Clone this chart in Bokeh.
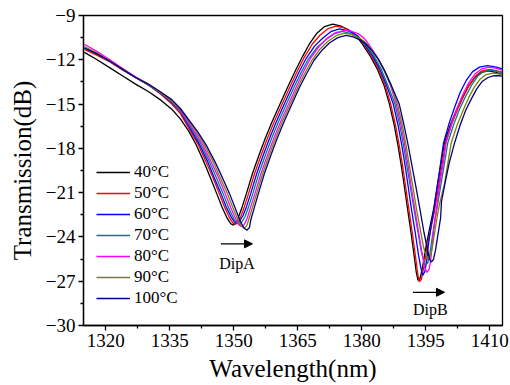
from bokeh.plotting import figure
from bokeh.models import Range1d, FixedTicker, Arrow, NormalHead
from bokeh.core.properties import value
from bokeh.embed import file_html
from bokeh.resources import INLINE

FONT = "Liberation Serif"

labels = ["40°C", "50°C", "60°C", "70°C", "80°C", "90°C", "100°C"]
colors = ["#000000", "#FF0000", "#0000FF", "#008080", "#FF00FF", "#808000", "#000080"]

wl_40 = [1315.0, 1318.0, 1321.0, 1324.0, 1327.0, 1330.0, 1333.0, 1335.5, 1337.5, 1339.5, 1341.2, 1343.0, 1344.5, 1346.0, 1347.3, 1348.5, 1349.3, 1349.9, 1350.5, 1351.2, 1352.0, 1353.0, 1354.4, 1356.0, 1357.5, 1359.0, 1360.7, 1362.5, 1364.2, 1366.0, 1367.8, 1369.5, 1371.3, 1373.2, 1375.0, 1376.8, 1378.5, 1380.2, 1382.0, 1383.7, 1385.2, 1386.5, 1387.6, 1388.5, 1389.3, 1390.0, 1390.8, 1391.6, 1392.3, 1392.8, 1393.2, 1393.7, 1394.3, 1395.1, 1396.0, 1396.8, 1397.8, 1398.6, 1399.4, 1400.8, 1402.2, 1403.6, 1405.0, 1406.5, 1408.0, 1409.8, 1411.5, 1413.0]
tr_40 = [-11.50, -12.00, -12.55, -13.10, -13.65, -14.15, -14.75, -15.35, -16.00, -16.85, -17.75, -18.90, -19.95, -21.05, -22.00, -22.75, -23.10, -23.20, -23.05, -22.60, -21.95, -21.05, -19.70, -18.40, -17.25, -16.20, -15.10, -13.95, -12.90, -11.85, -10.90, -10.20, -9.75, -9.58, -9.70, -9.95, -10.30, -10.95, -11.75, -12.65, -13.70, -15.00, -16.40, -17.80, -19.20, -20.60, -22.20, -23.80, -25.30, -26.40, -26.95, -26.80, -26.00, -24.60, -23.30, -22.20, -20.40, -19.00, -17.60, -16.40, -15.40, -14.60, -13.80, -13.20, -12.85, -12.75, -12.85, -13.00]

wl_50 = [1315.0, 1318.0, 1321.0, 1324.0, 1327.0, 1330.0, 1333.0, 1335.5, 1337.5, 1339.9, 1341.7, 1343.5, 1345.1, 1346.6, 1347.9, 1349.1, 1349.8, 1350.4, 1351.0, 1351.7, 1352.5, 1353.5, 1354.9, 1356.5, 1358.0, 1359.5, 1361.2, 1363.0, 1364.7, 1366.5, 1368.4, 1370.2, 1372.1, 1374.0, 1375.7, 1377.4, 1378.9, 1380.5, 1382.3, 1384.0, 1385.5, 1386.8, 1387.9, 1388.8, 1389.6, 1390.3, 1391.1, 1391.9, 1392.6, 1393.1, 1393.5, 1394.0, 1394.6, 1395.4, 1396.3, 1397.1, 1398.1, 1398.9, 1399.7, 1401.1, 1402.5, 1403.8, 1405.2, 1406.7, 1408.2, 1410.0, 1411.7, 1413.0]
tr_50 = [-11.30, -11.70, -12.15, -12.70, -13.20, -13.70, -14.35, -15.00, -15.65, -16.85, -17.75, -18.90, -19.95, -21.05, -22.00, -22.75, -23.05, -23.15, -23.00, -22.60, -21.95, -21.05, -19.70, -18.40, -17.25, -16.20, -15.10, -13.95, -12.90, -11.85, -10.95, -10.34, -9.89, -9.72, -9.82, -10.05, -10.35, -10.95, -11.75, -12.65, -13.70, -15.00, -16.40, -17.80, -19.20, -20.60, -22.20, -23.80, -25.30, -26.45, -27.05, -26.85, -26.00, -24.60, -23.30, -22.20, -20.40, -19.00, -17.60, -16.35, -15.35, -14.50, -13.70, -13.10, -12.75, -12.65, -12.75, -12.85]

wl_60 = [1315.0, 1318.0, 1321.0, 1324.0, 1327.0, 1330.0, 1333.0, 1335.5, 1337.5, 1340.2, 1342.0, 1343.9, 1345.4, 1347.0, 1348.3, 1349.5, 1350.2, 1350.8, 1351.4, 1352.2, 1353.0, 1354.0, 1355.4, 1357.0, 1358.5, 1360.0, 1361.7, 1363.5, 1365.2, 1367.0, 1369.0, 1370.9, 1372.9, 1374.8, 1376.4, 1378.0, 1379.3, 1380.8, 1382.6, 1384.3, 1385.8, 1387.4, 1388.5, 1389.4, 1390.2, 1390.9, 1391.7, 1392.6, 1393.3, 1393.9, 1394.3, 1394.8, 1395.2, 1395.7, 1396.3, 1396.9, 1397.8, 1398.5, 1399.2, 1400.5, 1401.8, 1403.1, 1404.5, 1406.0, 1407.6, 1409.5, 1411.3, 1413.0]
tr_60 = [-11.20, -11.60, -12.10, -12.65, -13.20, -13.70, -14.30, -14.90, -15.50, -16.85, -17.75, -18.90, -19.95, -21.05, -22.00, -22.70, -23.00, -23.05, -22.92, -22.55, -21.95, -21.05, -19.70, -18.40, -17.25, -16.20, -15.10, -13.95, -12.90, -11.90, -11.06, -10.52, -10.07, -9.90, -10.00, -10.20, -10.45, -11.00, -11.75, -12.65, -13.70, -15.00, -16.40, -17.80, -19.20, -20.60, -22.20, -23.80, -25.20, -26.15, -26.60, -26.35, -25.70, -24.40, -23.20, -22.20, -20.40, -19.00, -17.60, -16.30, -15.20, -14.20, -13.40, -12.80, -12.50, -12.40, -12.48, -12.62]

wl_70 = [1315.0, 1318.0, 1321.0, 1324.0, 1327.0, 1330.0, 1333.0, 1335.5, 1337.5, 1340.5, 1342.35, 1344.3, 1345.9, 1347.5, 1348.8, 1350.0, 1350.7, 1351.3, 1351.9, 1352.7, 1353.5, 1354.5, 1355.9, 1357.5, 1359.0, 1360.5, 1362.2, 1364.0, 1365.7, 1367.5, 1369.6, 1371.5, 1373.5, 1375.5, 1377.1, 1378.6, 1379.7, 1381.1, 1382.9, 1384.6, 1386.1, 1387.8, 1388.9, 1389.8, 1390.6, 1391.4, 1392.3, 1393.2, 1393.9, 1394.5, 1395.0, 1395.5, 1396.0, 1396.6, 1397.2, 1397.8, 1398.6, 1399.4, 1400.2, 1401.6, 1403.0, 1404.4, 1405.8, 1407.2, 1408.6, 1410.3, 1411.8, 1413.0]
tr_70 = [-11.20, -11.60, -12.10, -12.65, -13.20, -13.70, -14.25, -14.85, -15.45, -16.85, -17.75, -18.90, -19.95, -21.05, -22.00, -22.75, -23.08, -23.15, -23.00, -22.60, -21.95, -21.05, -19.70, -18.40, -17.25, -16.20, -15.10, -13.95, -12.92, -11.95, -11.15, -10.65, -10.25, -10.08, -10.20, -10.40, -10.60, -11.05, -11.75, -12.65, -13.70, -15.00, -16.40, -17.80, -19.20, -20.60, -22.20, -23.70, -24.90, -25.60, -25.90, -25.75, -25.10, -23.90, -22.80, -21.80, -20.40, -19.00, -17.60, -16.35, -15.30, -14.45, -13.70, -13.10, -12.80, -12.70, -12.78, -12.88]

wl_80 = [1315.0, 1318.0, 1321.0, 1324.0, 1327.0, 1330.0, 1333.0, 1335.5, 1337.5, 1340.8, 1342.7, 1344.7, 1346.4, 1348.0, 1349.3, 1350.5, 1351.3, 1351.9, 1352.5, 1353.2, 1354.0, 1355.0, 1356.4, 1358.0, 1359.5, 1361.0, 1362.7, 1364.5, 1366.2, 1368.0, 1370.0, 1371.9, 1373.8, 1375.9, 1377.6, 1379.3, 1380.6, 1381.9, 1383.5, 1385.2, 1386.7, 1388.1, 1389.2, 1390.1, 1390.9, 1391.6, 1392.5, 1393.4, 1394.2, 1394.8, 1395.3, 1395.8, 1396.2, 1396.6, 1397.0, 1397.5, 1398.3, 1399.1, 1399.8, 1401.1, 1402.4, 1403.7, 1405.1, 1406.6, 1408.1, 1409.9, 1411.6, 1413.0]
tr_80 = [-10.95, -11.45, -12.00, -12.60, -13.15, -13.65, -14.25, -14.80, -15.40, -16.85, -17.75, -18.90, -19.95, -21.05, -22.00, -22.80, -23.20, -23.30, -23.15, -22.70, -21.95, -21.05, -19.70, -18.40, -17.25, -16.20, -15.10, -13.95, -12.90, -11.90, -11.10, -10.55, -10.17, -10.00, -10.07, -10.25, -10.55, -11.05, -11.75, -12.65, -13.70, -15.00, -16.40, -17.80, -19.20, -20.60, -22.20, -23.80, -25.20, -26.10, -26.40, -26.20, -25.50, -24.30, -23.20, -22.20, -20.40, -19.00, -17.60, -16.30, -15.25, -14.35, -13.55, -12.95, -12.62, -12.50, -12.58, -12.72]

wl_90 = [1315.0, 1318.0, 1321.0, 1324.0, 1327.0, 1330.0, 1333.0, 1335.5, 1337.5, 1341.2, 1343.1, 1345.2, 1346.8, 1348.5, 1349.8, 1351.0, 1351.8, 1352.5, 1353.1, 1353.6, 1354.4, 1355.4, 1356.8, 1358.4, 1359.9, 1361.4, 1363.1, 1364.9, 1366.6, 1368.4, 1370.3, 1372.1, 1374.0, 1376.0, 1377.7, 1379.3, 1380.6, 1382.0, 1383.6, 1385.2, 1386.8, 1388.4, 1389.5, 1390.4, 1391.2, 1392.0, 1392.9, 1393.8, 1394.5, 1395.1, 1395.5, 1396.0, 1396.5, 1397.1, 1397.7, 1398.3, 1399.4, 1400.2, 1401.0, 1402.4, 1403.8, 1405.1, 1406.4, 1407.8, 1409.2, 1410.8, 1412.1, 1413.0]
tr_90 = [-11.10, -11.55, -12.10, -12.65, -13.20, -13.70, -14.25, -14.80, -15.35, -16.85, -17.75, -18.90, -19.95, -21.05, -22.00, -22.85, -23.28, -23.40, -23.22, -22.75, -22.00, -21.05, -19.70, -18.40, -17.25, -16.20, -15.10, -13.95, -12.95, -12.00, -11.25, -10.75, -10.37, -10.20, -10.30, -10.50, -10.75, -11.20, -11.85, -12.70, -13.70, -15.00, -16.40, -17.80, -19.20, -20.60, -22.20, -23.60, -24.70, -25.30, -25.50, -25.35, -24.80, -23.70, -22.60, -21.70, -20.40, -19.00, -17.60, -16.40, -15.40, -14.55, -13.85, -13.30, -13.00, -12.90, -12.95, -13.00]

wl_100 = [1315.0, 1318.0, 1321.0, 1324.0, 1327.0, 1330.0, 1333.0, 1335.5, 1337.5, 1341.5, 1343.5, 1345.6, 1347.3, 1349.0, 1350.3, 1351.5, 1352.4, 1353.1, 1353.7, 1354.0, 1354.8, 1355.8, 1357.2, 1358.8, 1360.3, 1361.8, 1363.5, 1365.3, 1367.0, 1368.8, 1370.7, 1372.5, 1374.4, 1376.3, 1378.0, 1379.6, 1380.9, 1382.3, 1383.9, 1385.4, 1386.9, 1388.8, 1389.9, 1390.9, 1391.8, 1392.7, 1393.7, 1394.6, 1395.4, 1395.9, 1396.3, 1396.8, 1397.3, 1397.9, 1398.5, 1398.7, 1399.5, 1400.5, 1401.8, 1403.1, 1404.4, 1405.7, 1407.0, 1408.3, 1409.6, 1411.0, 1412.2, 1413.0]
tr_100 = [-11.20, -11.60, -12.10, -12.65, -13.20, -13.65, -14.20, -14.70, -15.30, -16.85, -17.75, -18.90, -19.95, -21.05, -22.00, -22.90, -23.40, -23.55, -23.35, -22.85, -22.05, -21.05, -19.70, -18.40, -17.25, -16.20, -15.10, -13.95, -12.98, -12.05, -11.35, -10.85, -10.50, -10.35, -10.45, -10.65, -10.90, -11.35, -11.95, -12.75, -13.70, -15.00, -16.40, -17.80, -19.20, -20.60, -22.20, -23.70, -24.85, -25.50, -25.70, -25.55, -24.90, -23.80, -22.70, -21.60, -20.40, -19.00, -17.60, -16.40, -15.40, -14.65, -13.95, -13.45, -13.20, -13.08, -13.08, -13.12]

x_ticks = [1320, 1335, 1350, 1365, 1380, 1395, 1410]
x_minor = [1312.5, 1327.5, 1342.5, 1357.5, 1372.5, 1387.5, 1402.5]
y_ticks = [-30, -27, -24, -21, -18, -15, -12, -9]
y_minor = [-28.5, -25.5, -22.5, -19.5, -16.5, -13.5, -10.5]

dip_names = ["DipA", "DipB"]
dip_text_x = [1346.6, 1392.0]
dip_text_y = [-25.8, -28.9]
arrow_x0 = [1347.0, 1392.0]
arrow_x1 = [1354.4, 1399.4]
arrow_y = [-24.47, -27.75]

series_x = [wl_40, wl_50, wl_60, wl_70, wl_80, wl_90, wl_100]
series_y = [tr_40, tr_50, tr_60, tr_70, tr_80, tr_90, tr_100]

p = figure(width=510, height=385, output_backend="svg", toolbar_location=None,
           x_range=Range1d(1314.8, 1413.0), y_range=Range1d(-30, -9),
           min_border_left=83, min_border_right=8, min_border_top=15, min_border_bottom=60)

p.xgrid.visible = False
p.ygrid.visible = False
p.outline_line_color = "black"
p.outline_line_width = 1.3
p.background_fill_color = "white"

for xs, ys, c, lab in zip(series_x, series_y, colors, labels):
    p.line(xs, ys, line_color=c, line_width=1.3, legend_label=lab)

for ax in (p.xaxis[0], p.yaxis[0]):
    ax.axis_line_width = 1.3
    ax.axis_line_color = "black"
    ax.major_tick_line_width = 1.3
    ax.minor_tick_line_width = 1.3
    ax.major_tick_out = 5
    ax.major_tick_in = 0
    ax.minor_tick_out = 3
    ax.minor_tick_in = 0
    ax.major_label_text_font = FONT
    ax.major_label_text_font_size = "19px"
    ax.major_label_text_color = "black"
    ax.major_label_standoff = 3
    ax.axis_label_text_font = FONT
    ax.axis_label_text_font_size = "25px"
    ax.axis_label_text_font_style = "normal"
    ax.axis_label_text_color = "black"

p.xaxis[0].ticker = FixedTicker(ticks=x_ticks, minor_ticks=x_minor)
p.yaxis[0].ticker = FixedTicker(ticks=y_ticks, minor_ticks=y_minor)
p.xaxis[0].axis_label = "Wavelength(nm)"
p.yaxis[0].axis_label = "Transmission(dB)"
p.xaxis[0].axis_label_standoff = 5
p.yaxis[0].axis_label_standoff = 7

for i in range(2):
    p.add_layout(Arrow(end=NormalHead(size=8, fill_color="black", line_color="black"),
                       x_start=arrow_x0[i], y_start=arrow_y[i],
                       x_end=arrow_x1[i], y_end=arrow_y[i],
                       line_color="black", line_width=1.3))

p.text(x=dip_text_x, y=dip_text_y, text=dip_names, text_font=value(FONT),
       text_font_size="16px", text_baseline="middle", text_align="left", text_color="black")

lg = p.legend[0]
lg.location = (13, 17)
lg.border_line_color = None
lg.background_fill_alpha = 0
lg.padding = 0
lg.margin = 0
lg.spacing = 1
lg.glyph_height = 18
lg.label_height = 18
lg.glyph_width = 34
lg.label_standoff = 4
lg.label_text_font = FONT
lg.label_text_font_size = "17px"
lg.label_text_color = "black"

open("out.html", "w").write(file_html(p, INLINE))
